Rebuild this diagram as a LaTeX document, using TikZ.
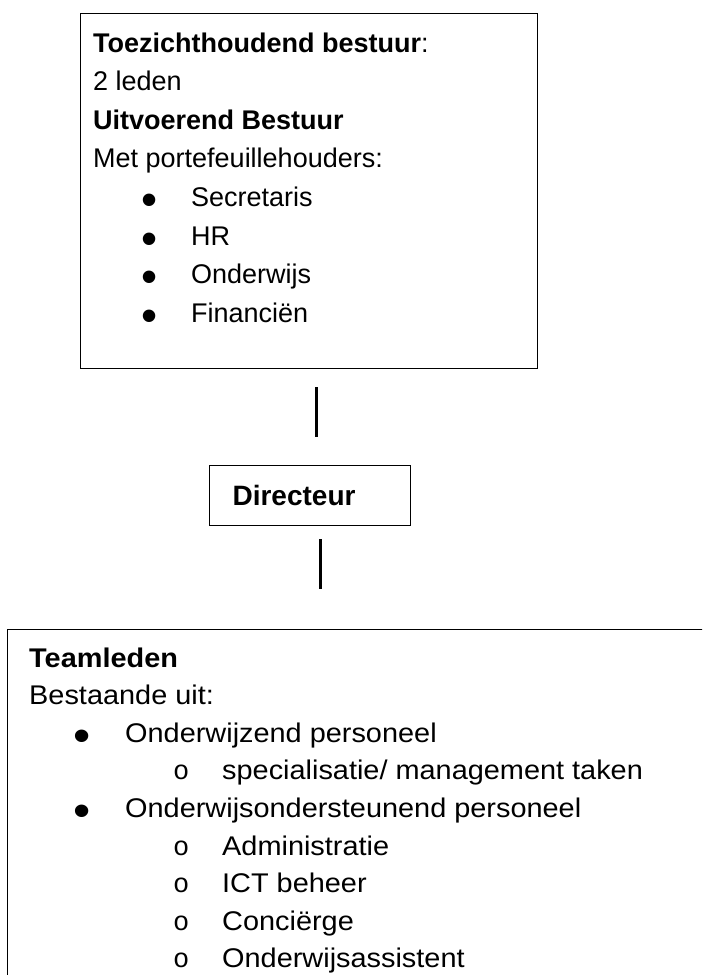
\documentclass[tikz,border=0pt]{standalone}
\usepackage{fontspec}
\setmainfont{Liberation Sans}
\newfontfamily\teamfont[FakeStretch=1.07]{Liberation Sans}
\newfontfamily\cirkelfont{Liberation Mono}

% opsomming: positie teken, teken, afstand tot tekst, tekst
\newcommand{\opsom}[4]{\hspace*{#1}\makebox[0pt]{#2}\hspace*{#3}#4}
\newcommand{\dikpunt}{\smash{\raisebox{-9pt}{\scalebox{1.7}{\textbullet}}}}

\begin{document}
\begin{tikzpicture}[x=1pt, y=-1pt,
  kader/.style={draw, line width=1.2pt, inner sep=0pt, anchor=north west},
  tekst/.style={anchor=base west, inner sep=0pt},
  verbinding/.style={line width=3pt}]
  \useasboundingbox (0,0) rectangle (702,975);
  \clip (0,0) rectangle (702,975);

  % kaders
  \node[kader, minimum width=457pt, minimum height=355pt] (bestuur) at (80,13) {};
  \node[kader, minimum width=201pt, minimum height=60pt, text width=155pt,
        inner xsep=23pt, align=left, font=\fontsize{28}{32}\selectfont\bfseries]
        (directeur) at (209,465) {Directeur};
  \node[kader, minimum width=720pt, minimum height=360pt] (team) at (7,629) {};

  % teksten
  \node[tekst] (bestuurtekst) at (93,52) {\parbox[t]{430pt}{\fontsize{27}{38.6}\selectfont
    \textbf{Toezichthoudend bestuur}:\\
    2 leden\\
    \textbf{Uitvoerend Bestuur}\\
    Met portefeuillehouders:\\
    \opsom{56pt}{\dikpunt}{42pt}{Secretaris}\\
    \opsom{56pt}{\dikpunt}{42pt}{HR}\\
    \opsom{56pt}{\dikpunt}{42pt}{Onderwijs}\\
    \opsom{56pt}{\dikpunt}{42pt}{Financiën}}};
  \node[tekst] (teamtekst) at (29,667) {\parbox[t]{660pt}{\teamfont\fontsize{27}{37.6}\selectfont
    \textbf{Teamleden}\\
    Bestaande uit:\\
    \opsom{53pt}{\dikpunt}{43pt}{Onderwijzend personeel}\\
    \opsom{152pt}{\cirkelfont o}{41pt}{specialisatie/ management taken}\\
    \opsom{53pt}{\dikpunt}{43pt}{Onderwijsondersteunend personeel}\\
    \opsom{152pt}{\cirkelfont o}{41pt}{Administratie}\\
    \opsom{152pt}{\cirkelfont o}{41pt}{ICT beheer}\\
    \opsom{152pt}{\cirkelfont o}{41pt}{Conciërge}\\
    \opsom{152pt}{\cirkelfont o}{41pt}{Onderwijsassistent}}};

  % losse verbindingslijnen
  \coordinate (lijn1boven) at (316,387);
  \coordinate (lijn1onder) at (316,437);
  \coordinate (lijn2boven) at (320,539);
  \coordinate (lijn2onder) at (320,589);
  \draw[verbinding] (lijn1boven) -- (lijn1onder);
  \draw[verbinding] (lijn2boven) -- (lijn2onder);
\end{tikzpicture}
\end{document}
